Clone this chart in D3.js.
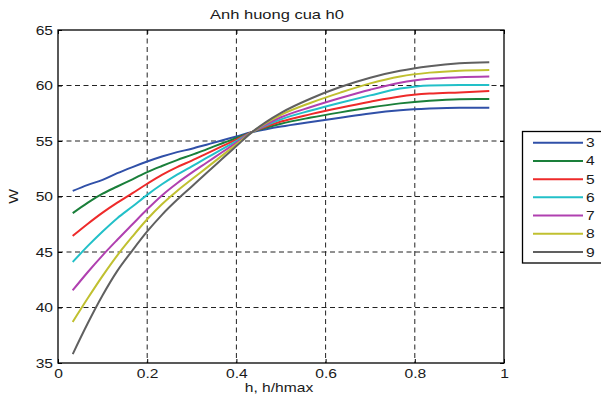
<!DOCTYPE html>
<html>
<head>
<meta charset="utf-8">
<script src="https://cdn.jsdelivr.net/npm/d3@7"></script>
<style>
  html, body { margin: 0; padding: 0; background: #fff; }
  svg { display: block; }
  text { font-family: "Liberation Sans", Arial, Helvetica, sans-serif; fill: #1a1a1a; }
</style>
</head>
<body>
<svg id="chart" width="601" height="395"></svg>
<script>
// ---- data ----
const chartTitle = "Anh huong cua h0";
const xLabel = "h, h/hmax";
const yLabel = "W";
const xTickValues = [0, 0.2, 0.4, 0.6, 0.8, 1];
const xTickLabels = ["0", "0.2", "0.4", "0.6", "0.8", "1"];
const yTickValues = [35, 40, 45, 50, 55, 60, 65];
const yTickLabels = ["35", "40", "45", "50", "55", "60", "65"];
const seriesNames = ["3", "4", "5", "6", "7", "8", "9"];
const hValues = [0.033, 0.067, 0.1, 0.133, 0.167, 0.2, 0.233, 0.267, 0.3, 0.333, 0.367, 0.4, 0.433,
                 0.467, 0.5, 0.567, 0.633, 0.7, 0.767, 0.833, 0.9, 0.967];
const w3 = [50.5, 51.05, 51.5, 52.1, 52.65, 53.15, 53.6, 54.0, 54.3, 54.67, 55.05, 55.41, 55.78,
            56.06, 56.3, 56.71, 57.1, 57.48, 57.76, 57.92, 58.0, 58.0];
const w4 = [48.5, 49.45, 50.25, 50.9, 51.55, 52.2, 52.75, 53.28, 53.75, 54.25, 54.77, 55.27, 55.78,
            56.2, 56.56, 57.11, 57.58, 58.02, 58.39, 58.63, 58.76, 58.78];
const w5 = [46.45, 47.55, 48.55, 49.45, 50.3, 51.15, 51.95, 52.65, 53.23, 53.86, 54.51, 55.13, 55.77,
            56.3, 56.75, 57.42, 58.0, 58.54, 59.01, 59.27, 59.38, 59.5];
const w6 = [44.1, 45.55, 46.85, 48.05, 49.1, 50.15, 51.1, 51.97, 52.72, 53.47, 54.24, 55.0, 55.76,
            56.41, 56.95, 57.75, 58.45, 59.11, 59.72, 60.01, 60.05, 60.05];
const w7 = [41.55, 43.2, 44.7, 46.1, 47.5, 48.85, 50.1, 51.2, 52.15, 53.04, 53.96, 54.85, 55.75,
            56.51, 57.14, 58.06, 58.87, 59.62, 60.25, 60.6, 60.74, 60.8];
const w8 = [38.7, 40.85, 42.85, 44.7, 46.4, 47.95, 49.3, 50.5, 51.55, 52.58, 53.66, 54.7, 55.74,
            56.64, 57.36, 58.45, 59.36, 60.19, 60.81, 61.16, 61.34, 61.4];
const w9 = [35.8, 38.6, 41.1, 43.3, 45.15, 46.85, 48.35, 49.7, 50.9, 52.12, 53.35, 54.54, 55.73,
            56.73, 57.54, 58.83, 59.86, 60.7, 61.32, 61.73, 62.0, 62.1];
const seriesColors = ["#3050a8", "#1a7f3a", "#ee2a2a", "#22c0c8", "#b040b0", "#c0c030", "#606060"];

const allSeries = [w3, w4, w5, w6, w7, w8, w9].map((vals, i) => ({
  name: seriesNames[i],
  color: seriesColors[i],
  points: hValues.map((h, j) => ({ h: h, w: vals[j] }))
}));

// ---- layout ----
const svg = d3.select("#chart");
const plot = { left: 58, right: 504, top: 30, bottom: 363 };
const stretch = 1.2;

const x = d3.scaleLinear().domain([0, 1]).range([plot.left, plot.right]);
const y = d3.scaleLinear().domain([35, 65]).range([plot.bottom, plot.top]);

svg.append("rect").attr("x", 0).attr("y", 0).attr("width", 601).attr("height", 395).attr("fill", "#fff");

// grid
const grid = svg.append("g").attr("class", "grid");
grid.selectAll("line.gx").data(xTickValues.filter(v => v > 0 && v < 1)).enter().append("line")
  .attr("x1", d => x(d)).attr("x2", d => x(d))
  .attr("y1", plot.top).attr("y2", plot.bottom)
  .attr("stroke", "#222").attr("stroke-width", 1).attr("stroke-dasharray", "5,3.5");
grid.selectAll("line.gy").data(yTickValues.filter(v => v > 35 && v < 65)).enter().append("line")
  .attr("y1", d => y(d)).attr("y2", d => y(d))
  .attr("x1", plot.left).attr("x2", plot.right)
  .attr("stroke", "#222").attr("stroke-width", 1).attr("stroke-dasharray", "5,3.5");

// lines
const line = d3.line().x(d => x(d.h)).y(d => y(d.w)).curve(d3.curveMonotoneX);
svg.append("g").selectAll("path").data(allSeries).enter().append("path")
  .attr("d", d => line(d.points))
  .attr("fill", "none")
  .attr("stroke", d => d.color)
  .attr("stroke-width", 2)
  .attr("stroke-linejoin", "round");

// axes
const xAxis = d3.axisBottom(x).tickValues(xTickValues)
  .tickFormat((d, i) => xTickLabels[i]).tickSizeInner(-4).tickSizeOuter(0).tickPadding(6);
const yAxis = d3.axisLeft(y).tickValues(yTickValues)
  .tickFormat((d, i) => yTickLabels[i]).tickSizeInner(-4).tickSizeOuter(0).tickPadding(4.2);
const xTop = d3.axisTop(x).tickValues(xTickValues).tickFormat("").tickSizeInner(-4).tickSizeOuter(0);
const yRight = d3.axisRight(y).tickValues(yTickValues).tickFormat("").tickSizeInner(-4).tickSizeOuter(0);

function styleAxis(g) {
  g.select(".domain").remove();
  g.selectAll(".tick line").attr("stroke", "#000");
  g.selectAll("text").attr("font-size", 13).attr("fill", "#1a1a1a")
    .attr("font-family", "'Liberation Sans', Arial, sans-serif")
    .attr("transform", `scale(${stretch},1)`);
}
svg.append("g").attr("transform", `translate(0,${plot.bottom})`).call(xAxis).call(styleAxis);
svg.append("g").attr("transform", `translate(${plot.left},0)`).call(yAxis).call(styleAxis);
svg.append("g").attr("transform", `translate(0,${plot.top})`).call(xTop).call(styleAxis);
svg.append("g").attr("transform", `translate(${plot.right},0)`).call(yRight).call(styleAxis);

// frame
svg.append("rect")
  .attr("x", plot.left).attr("y", plot.top)
  .attr("width", plot.right - plot.left).attr("height", plot.bottom - plot.top)
  .attr("fill", "none").attr("stroke", "#000").attr("stroke-width", 1.3);

// title and labels
svg.append("text").attr("transform", `translate(${(plot.left + plot.right) / 2 - 4},19) scale(1.27,1)`)
  .attr("text-anchor", "middle").attr("font-size", 13).text(chartTitle);
svg.append("text").attr("transform", `translate(${(plot.left + plot.right) / 2 - 2},392) scale(${stretch},1)`)
  .attr("text-anchor", "middle").attr("font-size", 13).text(xLabel);
svg.append("text").attr("transform", `translate(18,${(plot.top + plot.bottom) / 2}) rotate(-90) scale(${stretch},1)`)
  .attr("text-anchor", "middle").attr("font-size", 13).text(yLabel);

// legend
const legend = svg.append("g").attr("class", "legend");
legend.append("rect").attr("x", 522.5).attr("y", 131.5).attr("width", 100).attr("height", 131.5)
  .attr("fill", "#fff").attr("stroke", "#000").attr("stroke-width", 1.3);
const ly = d3.scalePoint().domain(seriesNames).range([142.7, 252]);
const items = legend.selectAll("g.item").data(allSeries).enter().append("g")
  .attr("transform", d => `translate(0,${ly(d.name)})`);
items.append("line").attr("x1", 533).attr("x2", 583).attr("y1", 0).attr("y2", 0)
  .attr("stroke", d => d.color).attr("stroke-width", 2);
items.append("text").attr("transform", `translate(586,0) scale(${stretch},1)`)
  .attr("dy", "0.35em").attr("font-size", 13).text(d => d.name);
</script>
</body>
</html>
